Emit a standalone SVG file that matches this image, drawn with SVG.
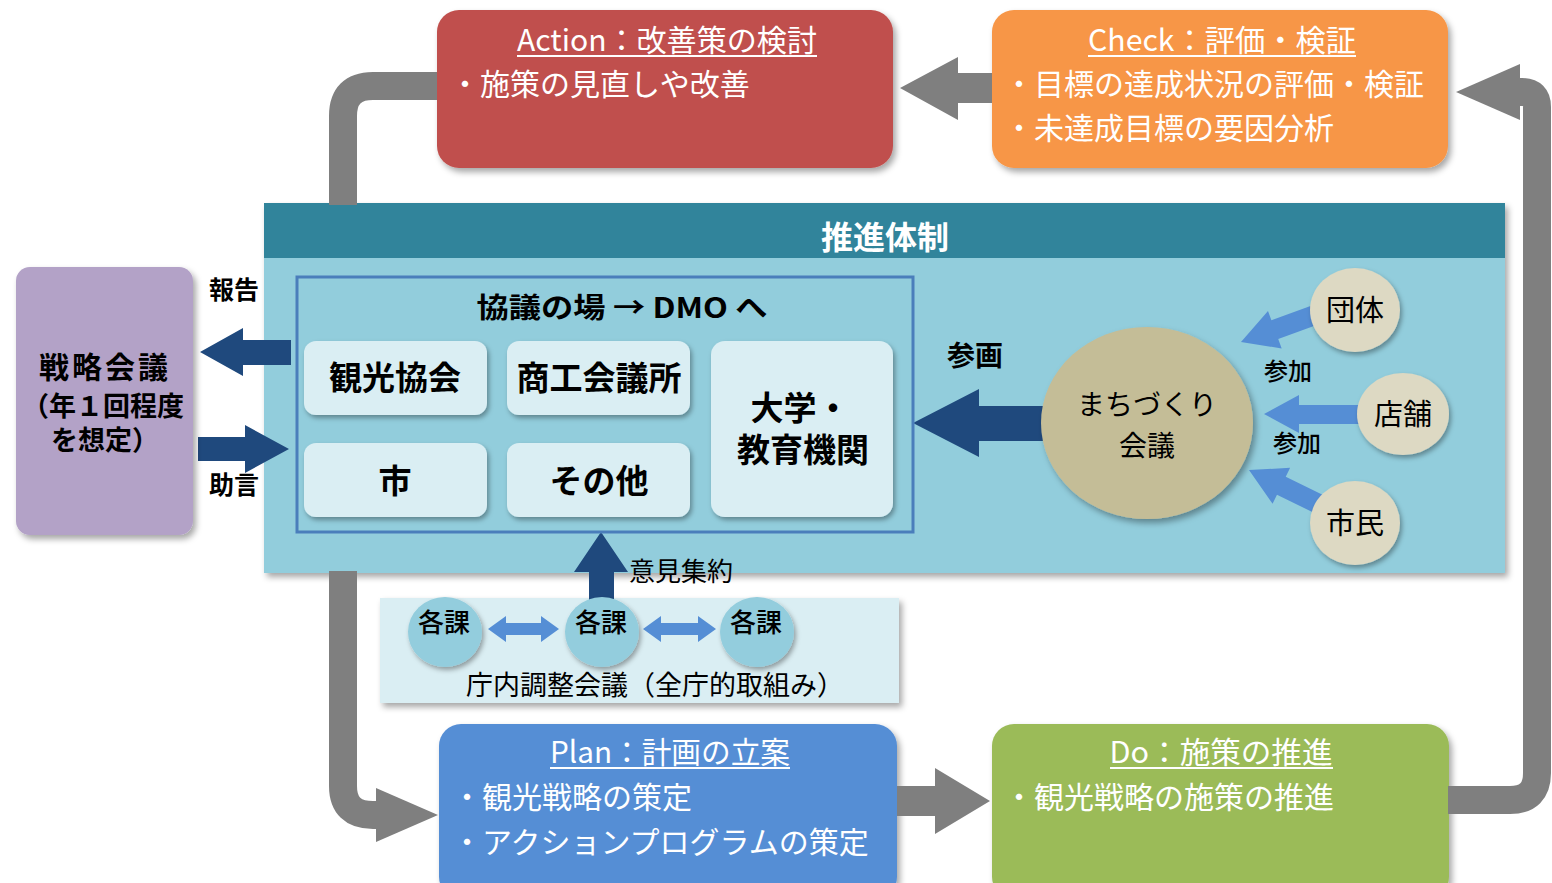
<svg xmlns="http://www.w3.org/2000/svg" width="1552" height="883" viewBox="0 0 1552 883">
<defs>
<filter id="sh" x="-10%" y="-10%" width="130%" height="130%">
<feDropShadow dx="3" dy="4" stdDeviation="3" flood-color="#000" flood-opacity="0.35"/>
</filter>
<filter id="shs" x="-20%" y="-20%" width="150%" height="150%">
<feDropShadow dx="2" dy="3" stdDeviation="2.5" flood-color="#000" flood-opacity="0.35"/>
</filter>
</defs>
<style>
text{font-family:"Noto Sans CJK JP","Noto Sans CJK SC",sans-serif;}
.wt{fill:#fff;font-size:30px;}
.ttl{fill:#fff;font-size:30px;text-anchor:middle;}
.ul{stroke:#fff;stroke-width:2;}
.ib{fill:#DAEEF3;filter:url(#shs);}
.ibt{fill:#000;font-size:33px;font-weight:bold;text-anchor:middle;}
.bk{fill:#000;text-anchor:middle;}
.grey{fill:#7F7F7F;}
.gbar{fill:none;stroke:#7F7F7F;stroke-width:28;}
.navy{fill:#1F497D;}
.lb{fill:#558ED5;}
.sc{fill:#DDD9C3;filter:url(#shs);}
.kk{fill:#93CDDD;filter:url(#shs);}
</style>
<rect width="1552" height="883" fill="#fff"/>

<g id="action">
<rect x="437" y="10" width="456" height="158" rx="22" fill="#C0504D" filter="url(#sh)"/>
<text class="ttl" x="667" y="51" textLength="300" lengthAdjust="spacingAndGlyphs">Action：改善策の検討</text>
<line class="ul" x1="517" y1="56" x2="817" y2="56"/>
<text class="wt" x="450" y="95">・施策の見直しや改善</text>
</g>

<g id="check">
<rect x="992" y="10" width="456" height="158" rx="22" fill="#F79646" filter="url(#sh)"/>
<text class="ttl" x="1222" y="51" textLength="268" lengthAdjust="spacingAndGlyphs">Check：評価・検証</text>
<line class="ul" x1="1088" y1="56" x2="1356" y2="56"/>
<text class="wt" x="1004" y="95">・目標の達成状況の評価・検証</text>
<text class="wt" x="1004" y="139">・未達成目標の要因分析</text>
</g>

<g id="plan">
<rect x="439" y="724" width="458" height="175" rx="22" fill="#558ED5" filter="url(#sh)"/>
<text class="ttl" x="670" y="763" textLength="240" lengthAdjust="spacingAndGlyphs">Plan：計画の立案</text>
<line class="ul" x1="550" y1="768" x2="790" y2="768"/>
<text class="wt" x="452" y="808">・観光戦略の策定</text>
<text class="wt" x="452" y="853">・アクションプログラムの策定</text>
</g>

<g id="do">
<rect x="992" y="724" width="457" height="175" rx="22" fill="#9BBB59" filter="url(#sh)"/>
<text class="ttl" x="1221" y="763" textLength="223" lengthAdjust="spacingAndGlyphs">Do：施策の推進</text>
<line class="ul" x1="1110" y1="768" x2="1333" y2="768"/>
<text class="wt" x="1004" y="808">・観光戦略の施策の推進</text>
</g>

<g id="suishin-taisei">
<rect x="264" y="203" width="1241" height="370" fill="#92CDDC" filter="url(#sh)"/>
<rect x="264" y="203" width="1241" height="55" fill="#31849B"/>
<text x="885" y="249" fill="#fff" font-size="32" font-weight="bold" text-anchor="middle">推進体制</text>
</g>

<g id="chonai-panel">
<rect x="380" y="598" width="519" height="105" fill="#DAEEF3" filter="url(#sh)"/>
</g>

<g id="connectors">
<path class="gbar" d="M437 86 H373 Q343 86 343 116 V205"/>
<path class="gbar" d="M343 571 V786 Q343 815 373 815 H378"/>
<polygon class="grey" points="376,788 438,815 376,842"/>
<path class="gbar" d="M1448 800 H1510 Q1537 800 1537 773 V107 Q1537 92 1522 92 H1518"/>
<polygon class="grey" points="1520,64 1456,92 1520,120"/>
<polygon class="grey" points="992,73 958,73 958,57 900,88 958,120 958,103 992,103"/>
<polygon class="grey" points="897,786 935,786 935,768 990,801 935,834 935,816 897,816"/>
<polygon class="navy" points="200,352 243,328 243,340 291,340 291,365 243,365 243,376"/>
<polygon class="navy" points="198,437 245,437 245,425 289,449 245,473 245,461 198,461"/>
<polygon class="navy" points="913,423 979,389 979,406 1050,406 1050,441 979,441 979,457"/>
<polygon class="navy" points="601,532 628,572 614,572 614,606 589,606 589,572 574,572"/>
<polygon class="lb" points="1264,414 1299,395 1299,405 1370,405 1370,424 1299,424 1299,433"/>
<polygon class="lb" transform="translate(1241,342) rotate(-20)" points="0,0 36,-20 36,-10 90,-10 90,10 36,10 36,20"/>
<polygon class="lb" transform="translate(1249,470) rotate(26)" points="0,0 36,-20 36,-10 90,-10 90,10 36,10 36,20"/>
<polygon class="lb" points="488,629 506,616 506,623 541,623 541,616 559,629 541,642 541,635 506,635 506,642"/>
<polygon class="lb" points="643,629 661,616 661,623 698,623 698,616 716,629 698,642 698,635 661,635 661,642"/>
</g>

<g id="kyogi-frame">
<rect x="297" y="277" width="616" height="255" fill="none" stroke="#4A7EBB" stroke-width="3"/>
<text class="bk" x="622" y="318" font-size="28" font-weight="bold" textLength="291" lengthAdjust="spacingAndGlyphs">協議の場 → DMO へ</text>
</g>

<g id="kanko-kyokai">
<rect class="ib" x="304" y="341" width="183" height="74" rx="12"/>
<text class="ibt" x="395" y="390">観光協会</text>
</g>
<g id="shoko-kaigisho">
<rect class="ib" x="507" y="341" width="183" height="74" rx="12"/>
<text class="ibt" x="599" y="390">商工会議所</text>
</g>
<g id="shi">
<rect class="ib" x="304" y="443" width="183" height="74" rx="12"/>
<text class="ibt" x="395" y="493">市</text>
</g>
<g id="sonota">
<rect class="ib" x="507" y="443" width="183" height="74" rx="12"/>
<text class="ibt" x="599" y="493">その他</text>
</g>
<g id="daigaku">
<rect class="ib" x="711" y="341" width="182" height="176" rx="14"/>
<text class="ibt" font-size="32"><tspan x="800" y="420">大学・</tspan><tspan x="803" y="462">教育機関</tspan></text>
</g>

<g id="senryaku-kaigi">
<rect x="16" y="267" width="177" height="268" rx="14" fill="#B3A2C7" filter="url(#sh)"/>
<text class="bk" font-size="27" font-weight="bold"><tspan x="105" y="378" font-size="30" letter-spacing="3">戦略会議</tspan><tspan x="103" y="416">（年１回程度</tspan><tspan x="105" y="450">を想定）</tspan></text>
</g>

<g id="labels">
<text class="bk" x="234" y="299" font-size="25" font-weight="bold">報告</text>
<text class="bk" x="234" y="494" font-size="25" font-weight="bold">助言</text>
<text class="bk" x="975" y="366" font-size="28" font-weight="bold">参画</text>
<text class="bk" x="1288" y="380" font-size="24" font-weight="500">参加</text>
<text class="bk" x="1297" y="452" font-size="24" font-weight="500">参加</text>
<text x="629" y="581" font-size="26" fill="#000">意見集約</text>
</g>

<g id="machizukuri">
<ellipse cx="1147" cy="423" rx="106" ry="96" fill="#C4BD97" filter="url(#sh)"/>
<text class="bk" font-size="28"><tspan x="1147" y="415">まちづくり</tspan><tspan x="1147" y="456">会議</tspan></text>
</g>
<g id="dantai">
<ellipse class="sc" cx="1355" cy="310" rx="45" ry="42"/>
<text class="bk" x="1355" y="321" font-size="29">団体</text>
</g>
<g id="tenpo">
<ellipse class="sc" cx="1403" cy="414" rx="46" ry="41"/>
<text class="bk" x="1403" y="425" font-size="29">店舗</text>
</g>
<g id="shimin">
<ellipse class="sc" cx="1355" cy="523" rx="45" ry="42"/>
<text class="bk" x="1355" y="534" font-size="29">市民</text>
</g>

<g id="kaka-1">
<ellipse class="kk" cx="445" cy="632" rx="37" ry="35"/>
<text class="bk" x="444" y="632" font-size="26" font-weight="500">各課</text>
</g>
<g id="kaka-2">
<ellipse class="kk" cx="602" cy="632" rx="37" ry="35"/>
<text class="bk" x="601" y="632" font-size="26" font-weight="500">各課</text>
</g>
<g id="kaka-3">
<ellipse class="kk" cx="757" cy="632" rx="37" ry="35"/>
<text class="bk" x="756" y="632" font-size="26" font-weight="500">各課</text>
</g>
<g id="chonai-label">
<text x="466" y="695" font-size="27" fill="#000">庁内調整会議（全庁的取組み）</text>
</g>
</svg>
